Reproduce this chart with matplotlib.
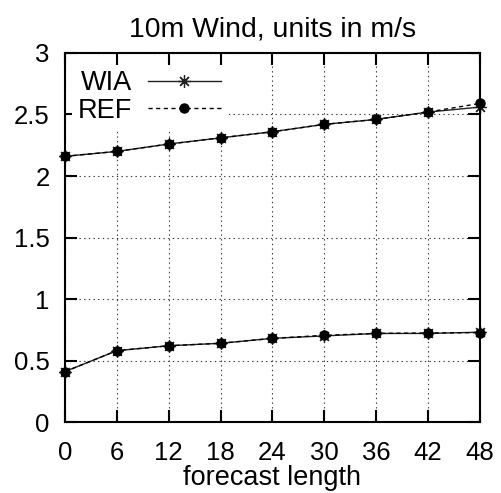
import matplotlib
matplotlib.use('Agg')
import matplotlib.pyplot as plt

#forecast length (hours) and 10m wind scores
hours = [0, 6, 12, 18, 24, 30, 36, 42, 48]
wia_upper = [2.16, 2.20, 2.26, 2.31, 2.36, 2.42, 2.46, 2.52, 2.56]
ref_upper = [2.16, 2.20, 2.26, 2.31, 2.36, 2.42, 2.46, 2.52, 2.59]
wia_lower = [0.41, 0.58, 0.62, 0.64, 0.68, 0.70, 0.72, 0.72, 0.73]
ref_lower = [0.41, 0.58, 0.62, 0.64, 0.68, 0.705, 0.72, 0.724, 0.727]

yticks = [0, 0.5, 1, 1.5, 2, 2.5, 3]
ytick_labels = ['0', '0.5', '1', '1.5', '2', '2.5', '3']

plt.rcParams['font.family'] = ['Liberation Sans', 'DejaVu Sans']
plt.rcParams['font.size'] = 19.5

fig = plt.figure(figsize=(5.01, 4.93), dpi=100)
ax = fig.add_axes([0.1297, 0.144, 0.8283, 0.7485])

wia_style = dict(color='#222222', linewidth=1.0, linestyle='-',
                 marker=(8, 2, 0), markersize=9, markeredgewidth=0.9, clip_on=False)
ref_style = dict(color='black', linewidth=1.0, linestyle=(0, (3, 2.5)),
                 marker='o', markersize=6.5, clip_on=False)

ax.plot(hours, wia_upper, label='WIA', **wia_style)
ax.plot(hours, ref_upper, label='REF', **ref_style)
ax.plot(hours, wia_lower, **wia_style)
ax.plot(hours, ref_lower, **ref_style)

ax.set_xlim(0, 48)
ax.set_ylim(0, 3)
ax.set_xticks(hours)
ax.set_yticks(yticks)
ax.set_yticklabels(ytick_labels)

ax.grid(True, color='#333333', linestyle=(0, (1.2, 3)), linewidth=0.8)
ax.tick_params(direction='in', length=8.6, width=1.5, top=True, right=True,
               labelsize=18.5)
ax.tick_params(axis='x', pad=14)
ax.tick_params(axis='y', pad=11)
for s in ax.spines.values():
    s.set_linewidth(1.5)

ax.set_title('10m Wind, units in m/s', fontsize=20.4, pad=12)
ax.set_xlabel('forecast length', labelpad=0)

leg = ax.legend(loc='upper left', bbox_to_anchor=(0.01, 0.975), markerfirst=False,
                handlelength=2.7, handletextpad=0.6, labelspacing=0.05,
                borderpad=0.2, borderaxespad=0.1, frameon=True, fancybox=False)
leg.get_frame().set_facecolor('white')
leg.get_frame().set_edgecolor('none')
leg.get_frame().set_alpha(1)

plt.savefig('out.png', dpi=100)
